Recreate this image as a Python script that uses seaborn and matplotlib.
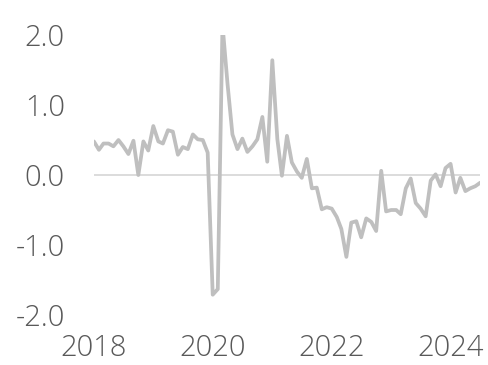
import matplotlib
matplotlib.use("Agg")
import matplotlib.pyplot as plt
import matplotlib.dates as mdates
import seaborn as sns
import pandas as pd

# monthly values, Jan 2018 .. Jul 2024
start_month = "2018-01-01"
values = [
    0.48, 0.36, 0.45, 0.45, 0.41, 0.50, 0.41, 0.30, 0.49, 0.00, 0.48, 0.35,
    0.70, 0.48, 0.45, 0.64, 0.62, 0.29, 0.40, 0.37, 0.58, 0.51, 0.50, 0.32,
    -1.71, -1.63, 2.15, 1.30, 0.58, 0.37, 0.52, 0.33, 0.41, 0.51, 0.83, 0.19,
    1.64, 0.51, -0.01, 0.56, 0.18, 0.05, -0.04, 0.23, -0.19, -0.18, -0.49, -0.46,
    -0.48, -0.60, -0.77, -1.17, -0.68, -0.66, -0.89, -0.62, -0.67, -0.80, 0.06, -0.52,
    -0.50, -0.50, -0.56, -0.19, -0.05, -0.40, -0.48, -0.59, -0.08, 0.01, -0.16, 0.10,
    0.16, -0.25, -0.04, -0.23, -0.19, -0.16, -0.11,
]
y_ticks = [-2.0, -1.0, 0.0, 1.0, 2.0]
x_tick_years = [2018, 2020, 2022, 2024]

df = pd.DataFrame({
    "date": pd.date_range(start_month, periods=len(values), freq="MS"),
    "value": values,
})

sns.set_style("white")
plt.rcParams["font.family"] = ["Open Sans", "DejaVu Sans"]
plt.rcParams["font.weight"] = "light"

fig = plt.figure(figsize=(4.89, 3.65), dpi=100)
ax = fig.add_axes([0.192, 0.137, 0.790, 0.767])

ax.axhline(0, color="#D9D9D9", lw=1.3, zorder=1)
sns.lineplot(data=df, x="date", y="value", ax=ax, color="#BFBFBF",
             lw=2.7, zorder=2)

ax.set_ylim(-2.0, 2.0)
ax.set_xlim(df["date"].iloc[0], df["date"].iloc[-1])
ax.set_yticks(y_ticks)
ax.set_yticklabels([f"{v:.1f}" for v in y_ticks])
ax.set_xticks([pd.Timestamp(f"{y}-01-01") for y in x_tick_years])
ax.xaxis.set_major_formatter(mdates.DateFormatter("%Y"))

ax.tick_params(axis="both", length=0, labelsize=21, labelcolor="#595959")
ax.tick_params(axis="y", pad=21)
ax.tick_params(axis="x", pad=13)
ax.set_xlabel("")
ax.set_ylabel("")
for s in ax.spines.values():
    s.set_visible(False)

fig.savefig("out.png", dpi=100)
